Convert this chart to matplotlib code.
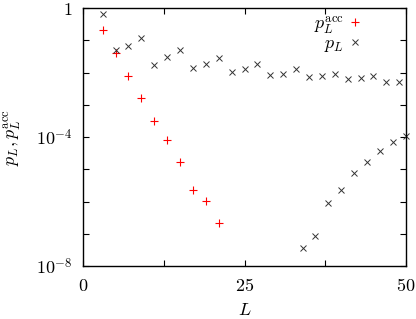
import matplotlib
matplotlib.use("Agg")
import matplotlib.pyplot as plt
from matplotlib.ticker import FixedLocator, FixedFormatter, NullLocator

plt.rcParams['mathtext.fontset'] = 'cm'
plt.rcParams['font.family'] = ['DejaVu Serif']

# p_L (black x), odd L branch
L_pL_a = [3, 5, 7, 9, 11, 13, 15, 17, 19, 21, 23, 25, 27, 29, 31, 33, 35, 37, 39, 41, 43, 45, 47, 49]
pL_a = [6.5e-1, 5.0e-2, 6.8e-2, 1.15e-1, 1.7e-2, 3.1e-2, 5.0e-2, 1.4e-2, 1.8e-2, 2.9e-2,
        1.07e-2, 1.26e-2, 1.8e-2, 8.5e-3, 9.3e-3, 1.26e-2, 7.4e-3, 7.9e-3, 9.3e-3, 6.2e-3,
        6.6e-3, 7.8e-3, 5.0e-3, 5.2e-3]
# p_L (black x), even L branch
L_pL_b = [34, 36, 38, 40, 42, 44, 46, 48, 50]
pL_b = [3.6e-8, 8.5e-8, 8.9e-7, 2.3e-6, 7.8e-6, 1.7e-5, 3.6e-5, 6.9e-5, 1.1e-4]
# p_L^acc (red +)
L_acc = [3, 5, 7, 9, 11, 13, 15, 17, 19, 21]
p_acc = [2.1e-1, 4.0e-2, 7.6e-3, 1.6e-3, 3.1e-4, 7.9e-5, 1.7e-5, 2.3e-6, 1.05e-6, 2.2e-7]

xticks = [0, 12.5, 25, 37.5, 50]
xticklabels = ['$0$', '', '$25$', '', '$50$']
yticks = [1e-8, 1e-7, 1e-6, 1e-5, 1e-4, 1e-3, 1e-2, 1e-1, 1]
yticklabels = ['$10^{-8}$', '', '', '', '$10^{-4}$', '', '', '', '$1$']

fig = plt.figure(figsize=(4.16, 3.19), dpi=100)
ax = fig.add_axes([0.2003, 0.1652, 0.7749, 0.8098])

ax.plot(L_acc, p_acc, linestyle='none', marker='+', color='#ff0000', markersize=5.5,
        markeredgewidth=0.8, label=r'$p_L^{\rm acc}$', clip_on=False)
ax.plot(L_pL_a + L_pL_b, pL_a + pL_b, linestyle='none', marker='x', color='#333333',
        markersize=5, markeredgewidth=0.7, label=r'$p_L$', clip_on=False)

ax.set_yscale('log')
ax.set_xlim(0, 50)
ax.set_ylim(1e-8, 1)
ax.xaxis.set_major_locator(FixedLocator(xticks))
ax.xaxis.set_major_formatter(FixedFormatter(xticklabels))
ax.yaxis.set_major_locator(FixedLocator(yticks))
ax.yaxis.set_major_formatter(FixedFormatter(yticklabels))
ax.yaxis.set_minor_locator(NullLocator())
ax.xaxis.set_minor_locator(NullLocator())
ax.tick_params(which='both', direction='in', top=True, right=True, length=4, width=0.8,
               labelsize=13, pad=8)
for s in ax.spines.values():
    s.set_linewidth(1.0)

ax.set_xlabel(r'$L$', fontsize=13, labelpad=4)
ax.set_ylabel(r'$p_L, p_L^{\rm acc}$', fontsize=13, labelpad=9)

leg = ax.legend(loc='upper right', bbox_to_anchor=(364 / 416, 1 - 12 / 319), bbox_transform=fig.transFigure,
                frameon=False, markerfirst=False, fontsize=13, handlelength=0.8,
                handletextpad=0.2, labelspacing=-0.1, borderaxespad=0, borderpad=0.1)

fig.savefig('out.png', dpi=100)
